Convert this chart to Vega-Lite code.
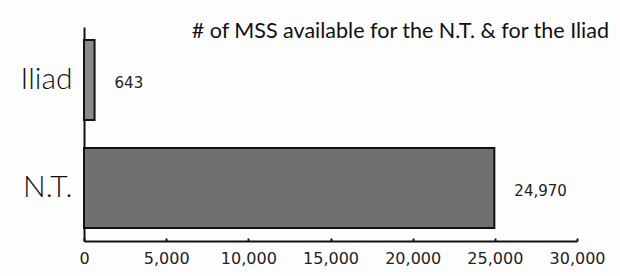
{
  "$schema": "https://vega.github.io/schema/vega-lite/v6.json",
  "width": 493,
  "height": 214,
  "autosize": "none",
  "padding": {"left": 84, "top": 27, "right": 43, "bottom": 35},
  "background": "#fdfdfd",
  "title": {
    "text": "# of MSS available for the N.T. & for the Iliad",
    "anchor": "end",
    "frame": "group",
    "font": "Lato",
    "fontSize": 21.5,
    "fontWeight": "normal",
    "color": "#111",
    "dx": 32,
    "offset": -15
  },
  "data": {
    "values": [
      {"work": "Iliad", "mss": 643},
      {"work": "N.T.", "mss": 24970}
    ]
  },
  "encoding": {
    "y": {
      "field": "work",
      "type": "nominal",
      "sort": ["Iliad", "N.T."],
      "scale": {"paddingInner": 0.26, "paddingOuter": 0.12},
      "axis": {
        "title": null,
        "ticks": false,
        "labelFont": "Lato",
        "labelFontSize": 30,
        "labelFontWeight": 300,
        "labelColor": "#111",
        "labelPadding": 12,
        "domainColor": "#111",
        "domainWidth": 2
      }
    },
    "x": {
      "field": "mss",
      "type": "quantitative",
      "scale": {"domain": [0, 30000], "nice": false},
      "axis": {
        "title": null,
        "values": [0, 5000, 10000, 15000, 20000, 25000, 30000],
        "labelExpr": "format(datum.value, ',')",
        "labelFlush": false,
        "labelOverlap": false,
        "grid": false,
        "labelFont": "DejaVu Sans",
        "labelFontSize": 16,
        "labelColor": "#222",
        "labelPadding": 12,
        "tickSize": -3,
        "tickColor": "#111",
        "tickWidth": 2,
        "domainColor": "#111",
        "domainWidth": 2
      }
    }
  },
  "layer": [
    {
      "mark": {"type": "bar", "stroke": "#111", "strokeWidth": 2},
      "encoding": {
        "color": {
          "field": "work",
          "type": "nominal",
          "scale": {"domain": ["Iliad", "N.T."], "range": ["#8a8a8a", "#707070"]},
          "legend": null
        }
      }
    },
    {
      "mark": {"type": "text", "align": "left", "dx": 20, "dy": 3, "font": "DejaVu Sans", "fontSize": 15, "color": "#222"},
      "encoding": {
        "text": {"field": "mss", "type": "quantitative", "format": ","}
      }
    }
  ],
  "config": {"view": {"stroke": null}}
}
